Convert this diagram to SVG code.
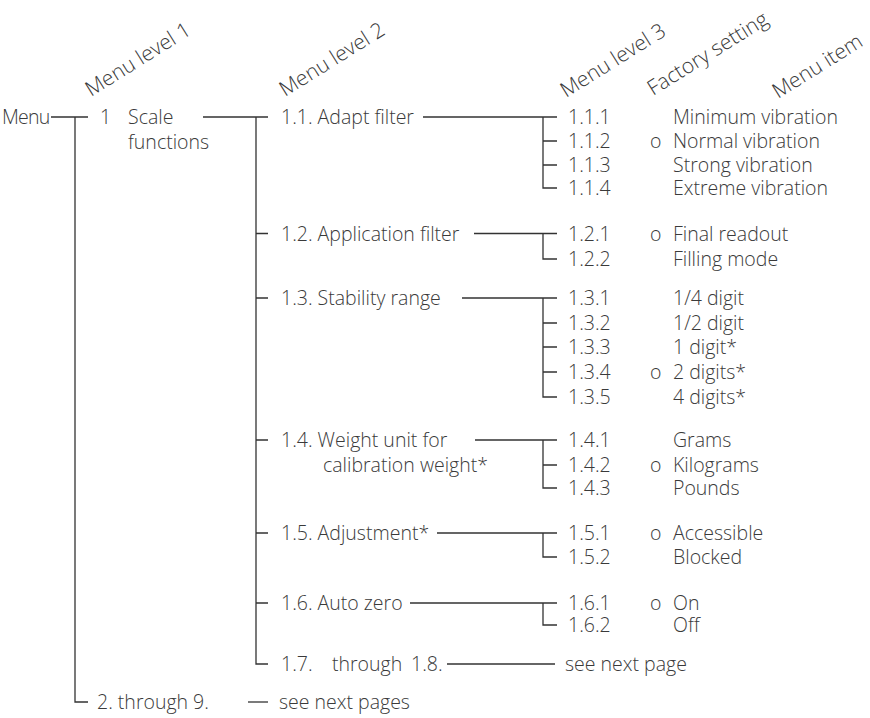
<svg xmlns="http://www.w3.org/2000/svg" width="870" height="718" viewBox="0 0 870 718">
<style>
text{font-family:"Open Sans","Liberation Sans",sans-serif;font-weight:300;font-size:19.5px;fill:#3a3a3a}
.hd{font-size:21px}
.ln{stroke:#333;stroke-width:1.3;fill:none}
</style>
<rect width="870" height="718" fill="#fff"/>
<g id="headers">
<text class="hd" transform="translate(91,97) rotate(-32)">Menu level 1</text>
<text class="hd" transform="translate(285,97) rotate(-32)">Menu level 2</text>
<text class="hd" transform="translate(566,98) rotate(-32)">Menu level 3</text>
<text class="hd" transform="translate(653,96) rotate(-32)">Factory setting</text>
<text class="hd" transform="translate(778,99) rotate(-32)">Menu item</text>
</g>
<g id="connectors">
<path class="ln" d="M51,117H88M75,117V702H88"/>
<path class="ln" d="M203,117H268M256,117V664H268M256,233.5H268M256,298H268M256,440H268M256,533H268M256,603H268"/>
<path class="ln" d="M423,117H557M543,117V188H557M543,141H557M543,165H557"/>
<path class="ln" d="M474,233.5H557M543,233.5V259H557"/>
<path class="ln" d="M462,298H557M543,298V397H557M543,323H557M543,347H557M543,372H557"/>
<path class="ln" d="M475,440H557M543,440V488H557M543,465H557"/>
<path class="ln" d="M437,533H557M543,533V557H557"/>
<path class="ln" d="M410,603H557M543,603V625H557"/>
<path class="ln" d="M447,664H555"/>
<path class="ln" d="M248,702H268"/>
</g>
<g id="menu"><text x="2" y="124" style="letter-spacing:-0.8px">Menu</text></g>
<g id="n1"><text x="100" y="124">1</text><text x="128" y="124">Scale</text><text x="128" y="149">functions</text></g>
<g id="n2"><text x="97" y="709">2. through 9.</text><text x="279" y="709">see next pages</text></g>
<g id="n11"><text x="281" y="124">1.1. Adapt filter</text></g>
<g id="n12"><text x="281" y="241">1.2. Application filter</text></g>
<g id="n13"><text x="281" y="305">1.3. Stability range</text></g>
<g id="n14"><text x="281" y="447">1.4. Weight unit for</text><text x="323" y="472">calibration weight*</text></g>
<g id="n15"><text x="281" y="540">1.5. Adjustment*</text></g>
<g id="n16"><text x="281" y="610">1.6. Auto zero</text></g>
<g id="n17"><text x="281" y="671">1.7.<tspan x="332">through</tspan><tspan x="411">1.8.</tspan></text><text x="565" y="671">see next page</text></g>
<g id="n111"><text x="568" y="124">1.1.1</text><text x="673" y="124">Minimum vibration</text></g>
<g id="n112"><text x="568" y="148">1.1.2</text><text x="650" y="148">o</text><text x="673" y="148">Normal vibration</text></g>
<g id="n113"><text x="568" y="172">1.1.3</text><text x="673" y="172">Strong vibration</text></g>
<g id="n114"><text x="568" y="195">1.1.4</text><text x="673" y="195">Extreme vibration</text></g>
<g id="n121"><text x="568" y="241">1.2.1</text><text x="650" y="241">o</text><text x="673" y="241">Final readout</text></g>
<g id="n122"><text x="568" y="266">1.2.2</text><text x="673" y="266">Filling mode</text></g>
<g id="n131"><text x="568" y="305">1.3.1</text><text x="673" y="305">1/4 digit</text></g>
<g id="n132"><text x="568" y="330">1.3.2</text><text x="673" y="330">1/2 digit</text></g>
<g id="n133"><text x="568" y="354">1.3.3</text><text x="673" y="354">1 digit*</text></g>
<g id="n134"><text x="568" y="379">1.3.4</text><text x="650" y="379">o</text><text x="673" y="379">2 digits*</text></g>
<g id="n135"><text x="568" y="404">1.3.5</text><text x="673" y="404">4 digits*</text></g>
<g id="n141"><text x="568" y="447">1.4.1</text><text x="673" y="447">Grams</text></g>
<g id="n142"><text x="568" y="472">1.4.2</text><text x="650" y="472">o</text><text x="673" y="472">Kilograms</text></g>
<g id="n143"><text x="568" y="495">1.4.3</text><text x="673" y="495">Pounds</text></g>
<g id="n151"><text x="568" y="540">1.5.1</text><text x="650" y="540">o</text><text x="673" y="540">Accessible</text></g>
<g id="n152"><text x="568" y="564">1.5.2</text><text x="673" y="564">Blocked</text></g>
<g id="n161"><text x="568" y="610">1.6.1</text><text x="650" y="610">o</text><text x="673" y="610">On</text></g>
<g id="n162"><text x="568" y="632">1.6.2</text><text x="673" y="632">Off</text></g>
</svg>
